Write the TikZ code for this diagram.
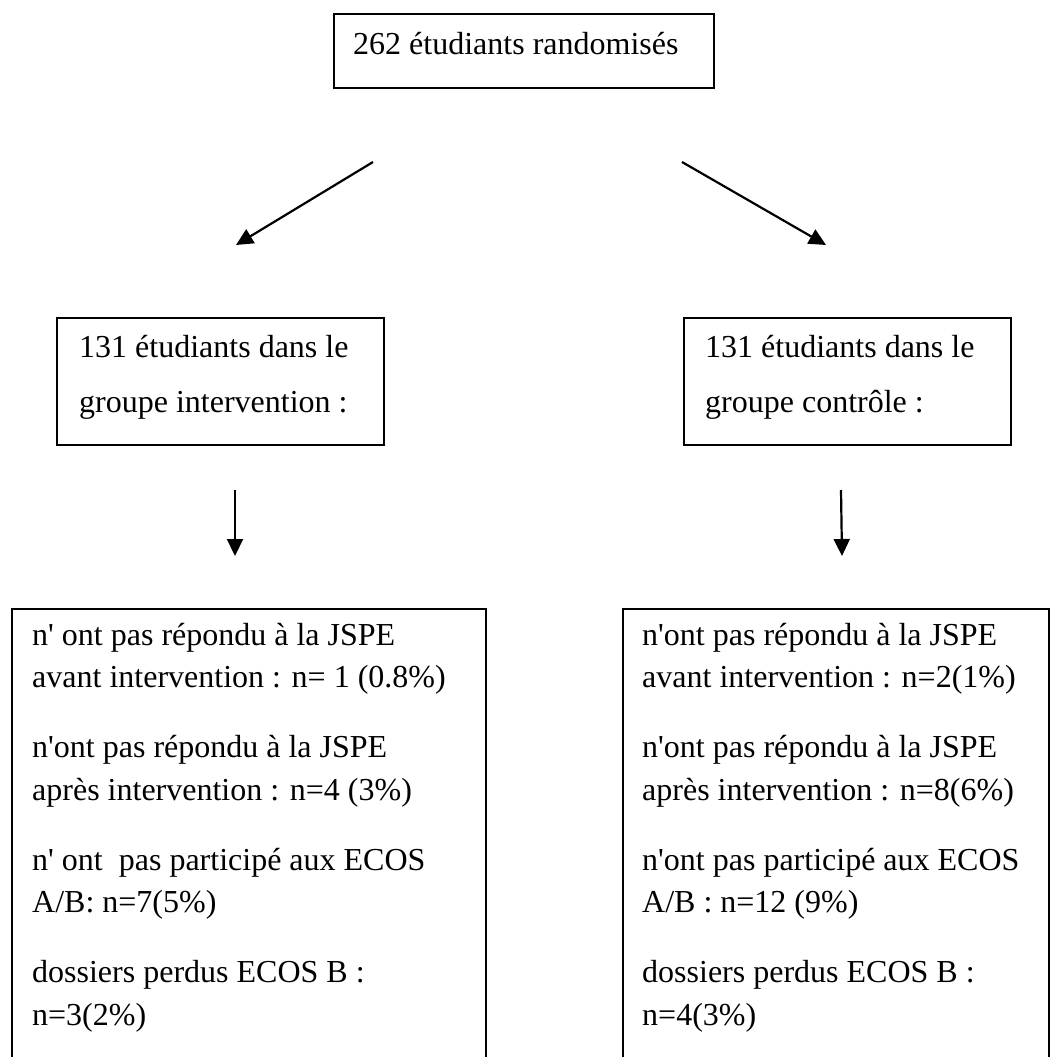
\documentclass[tikz,border=0pt]{standalone}
\usepackage{fontspec}
\newfontfamily\tnr{Liberation Serif}
\usetikzlibrary{arrows.meta}
\begin{document}
\begin{tikzpicture}[x=1pt,y=-1pt,
  frame/.style={draw=black, line width=1.8pt, inner sep=0pt, anchor=north west},
  txt/.style={inner sep=0pt, anchor=base west, font=\tnr\fontsize{32}{38}\selectfont},
  arr/.style={draw=black, line width=2.2pt, -{Triangle[length=17pt,width=16pt]}}]
\useasboundingbox (0,0) rectangle (1057,1057);
\clip (0,0) rectangle (1057,1057);
% boxes
\node[frame, minimum width=380pt, minimum height=74pt] (top) at (333,13) {};
\node[frame, minimum width=327pt, minimum height=127pt] (ml) at (56,317) {};
\node[frame, minimum width=327pt, minimum height=127pt] (mr) at (683,317) {};
\node[frame, minimum width=474pt, minimum height=480pt] (bl) at (11,608) {};
\node[frame, minimum width=426pt, minimum height=480pt] (br) at (622,608) {};
% texts
\node[txt] (toptxt) at (353,54.5) {262 étudiants randomisés};
\node[txt] (ml1) at (79,357) {131 étudiants dans le};
\node[txt] (ml2) at (79,412) {groupe intervention :};
\node[txt] (mr1) at (705,357) {131 étudiants dans le};
\node[txt] (mr2) at (705,412) {groupe contrôle :};
\node[txt] (bl1) at (32,645) {n' ont pas répondu à la JSPE};
\node[txt] (bl2) at (32,687.5) {avant intervention : n= 1 (0.8\%)};
\node[txt] (bl3) at (32,757.5) {n'ont pas répondu à la JSPE};
\node[txt] (bl4) at (32,800) {après intervention : n=4 (3\%)};
\node[txt] (bl5) at (32,870) {n' ont\ \ pas participé aux ECOS};
\node[txt] (bl6) at (32,912.5) {A/B: n=7(5\%)};
\node[txt] (bl7) at (32,982.5) {dossiers perdus ECOS B :};
\node[txt] (bl8) at (32,1025) {n=3(2\%)};
\node[txt] (br1) at (642,645) {n'ont pas répondu à la JSPE};
\node[txt] (br2) at (642,687.5) {avant intervention : n=2(1\%)};
\node[txt] (br3) at (642,757.5) {n'ont pas répondu à la JSPE};
\node[txt] (br4) at (642,800) {après intervention : n=8(6\%)};
\node[txt] (br5) at (642,870) {n'ont pas participé aux ECOS};
\node[txt] (br6) at (642,912.5) {A/B : n=12 (9\%)};
\node[txt] (br7) at (642,982.5) {dossiers perdus ECOS B :};
\node[txt] (br8) at (642,1025) {n=4(3\%)};
% arrow ends
\coordinate (d1s) at (373,162);
\coordinate (d1e) at (236,245);
\coordinate (d2s) at (682,162);
\coordinate (d2e) at (826,245);
\coordinate (v1s) at (235,490);
\coordinate (v1e) at (235,556);
\coordinate (v2s) at (841,490);
\coordinate (v2e) at (842,556);
\draw[arr] (d1s) -- (d1e);
\draw[arr] (d2s) -- (d2e);
\draw[arr] (v1s) -- (v1e);
\draw[arr] (v2s) -- (v2e);
\end{tikzpicture}
\end{document}
